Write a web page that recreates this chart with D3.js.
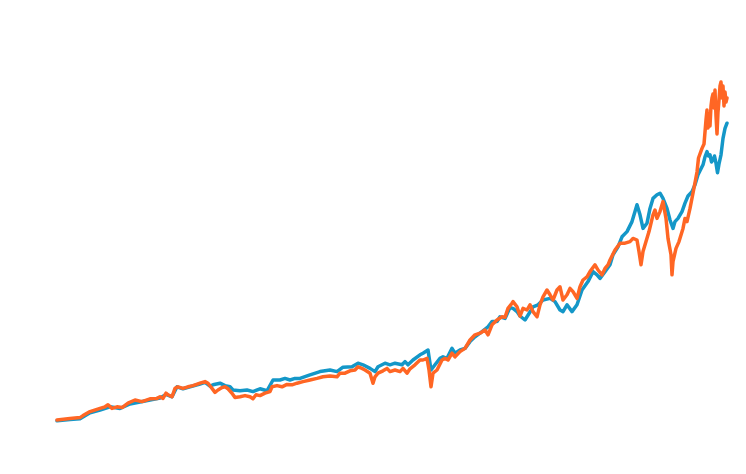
<!DOCTYPE html>
<html>
<head>
<meta charset="utf-8">
<script src="https://cdn.jsdelivr.net/npm/d3@7/dist/d3.min.js"></script>
<style>
html,body{margin:0;padding:0;background:#fff;}
svg{display:block;}
</style>
</head>
<body>
<svg id="chart" width="746" height="474"></svg>
<script>
// time index (periods since start) and index levels (start = 100)
const blueT = [0,13,23,33,43,53,63,73,83,93,103,109,115,120,126,133,143,148,153,156,163,168,173,176,183,190,196,203,210,216,223,228,233,238,243,253,263,273,280,286,295,301,306,313,318,321,328,333,338,345,348,351,356,363,366,371,374,378,383,386,390,395,398,403,408,413,418,425,431,435,440,443,448,453,456,460,463,468,473,476,481,486,493,498,503,506,510,515,520,525,531,536,540,543,548,553,556,561,565,570,575,578,580,583,586,590,593,596,600,603,606,610,613,616,618,621,625,628,631,635,638,641,646,648,650,651.5,653,654.5,656,657.5,659,660.5,662,664,666,668,670];
const blueV = [98,101,103,118,125,133,129,140,145,150,155,164,158,183,178,183,190,194,185,188,192,186,183,175,173,175,171,178,173,200,200,204,200,204,204,213,221,225,221,232,233,242,238,229,221,233,242,238,242,238,246,238,250,263,267,275,225,238,254,258,254,279,267,275,279,296,308,321,333,346,346,358,354,381,379,371,360,350,370,383,388,400,404,396,375,371,388,371,388,425,446,471,463,454,471,488,513,533,558,571,596,621,638,613,579,592,629,654,663,667,654,629,600,579,596,604,621,642,660,671,688,713,738,758,771,760,763,745,750,760,742,718,740,763,804,829,842];

const orangeT = [0,13,23,26,33,43,48,51,55,60,65,71,78,85,93,100,103,106,109,111,115,118,121,126,131,136,143,148,151,155,158,161,165,168,171,175,178,183,188,193,196,199,203,208,213,215,220,225,230,235,240,246,253,260,266,273,280,283,288,293,298,301,305,308,313,316,318,321,326,330,333,338,343,346,350,353,358,363,366,370,372,374,376,380,385,388,391,395,398,403,408,413,418,423,428,431,435,440,445,448,451,455,456,460,463,466,470,473,476,480,483,486,490,493,496,500,503,506,510,513,516,520,523,526,530,533,538,541,545,548,551,553,558,563,568,573,576,580,582,584,586,589,592,596,598,600,603,606,609,611,614,615,616,619,622,626,628,630,633,637,640,641.5,645,647,648,649,650,651,652,653,654,655,656,657,658,659,660,661,662,663,664,665,666,667,668,669,670];
const orangeV = [100,104,106,111,121,129,133,138,129,133,131,142,150,146,153,154,158,154,167,163,158,179,183,179,183,186,192,196,192,179,169,175,181,183,178,167,156,158,161,158,153,163,161,167,171,183,186,183,189,188,192,196,200,204,208,210,208,217,217,223,225,233,229,225,217,192,208,217,223,229,221,225,221,229,217,228,238,250,250,254,225,183,217,225,250,254,250,267,258,271,279,300,313,317,325,313,338,350,358,357,379,392,396,383,360,379,375,388,371,358,388,408,425,413,400,425,433,400,413,429,421,404,433,450,458,471,488,475,463,479,488,500,525,542,542,546,554,550,521,488,521,546,571,613,625,604,621,646,604,554,513,463,496,529,546,579,604,596,629,680,720,755,779,790,820,850,875,830,865,835,885,905,915,880,925,860,815,870,900,935,945,905,935,885,920,895,905];

const colors = { blue: "#1497c8", orange: "#ff6624" };

const svg = d3.select("#chart");
const x = d3.scaleLinear().domain([0, 670]).range([57, 727]);
const y = d3.scaleLinear().domain([0, 1000]).range([460, 60]);

const line = d3.line()
  .x(d => x(d[0]))
  .y(d => y(d[1]))
  .curve(d3.curveLinear);

const series = [
  { name: "blue", data: d3.zip(blueT, blueV) },
  { name: "orange", data: d3.zip(orangeT, orangeV) }
];

svg.selectAll("path.series")
  .data(series)
  .join("path")
  .attr("class", "series")
  .attr("fill", "none")
  .attr("stroke", d => colors[d.name])
  .attr("stroke-width", 3.5)
  .attr("stroke-linejoin", "round")
  .attr("stroke-linecap", "round")
  .attr("d", d => line(d.data));
</script>
</body>
</html>
